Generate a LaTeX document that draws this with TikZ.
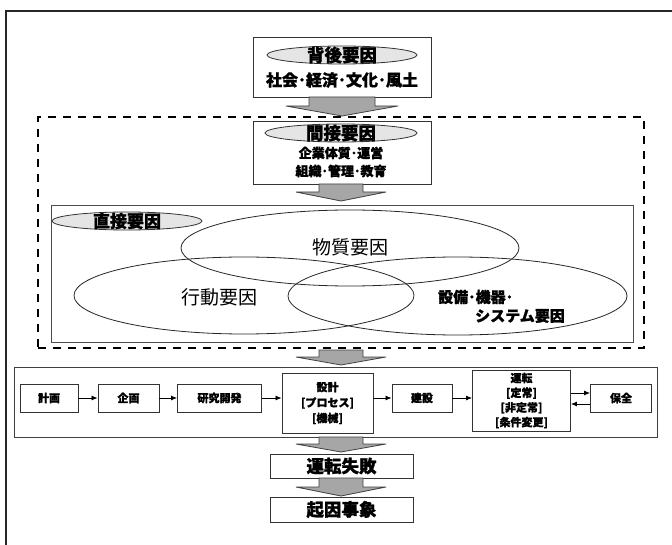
\documentclass[tikz,border=0pt]{standalone}
\usepackage{fontspec}
\newfontfamily\jp{Noto Sans CJK JP}[BoldFeatures={FakeBold=1.2}]
\usetikzlibrary{shapes.geometric,arrows.meta,calc}
\newcommand\jpf[1]{\jp\fontsize{#1}{#1}\selectfont}
\begin{document}
\begin{tikzpicture}[x=1pt,y=-1pt,
  boxline/.style={draw=black!80, line width=0.9pt, inner sep=0pt},
  tagell/.style={ellipse, draw=black!80, fill=black!10, line width=0.8pt, inner sep=0pt},
  venn/.style={ellipse, draw=black!85, line width=0.8pt, inner sep=0pt},
  blockarr/.style={fill=black!35, draw=black!75, line width=0.8pt, line join=miter},
  pbox/.style={boxline, fill=white, align=center, font=\jpf{11}\bfseries},
  flow/.style={-{Latex[length=6pt,width=5pt]}, line width=0.8pt, black}]
\useasboundingbox (0,0) rectangle (672,545);
% outer frame
\draw[line width=2pt, black!85] (6,545) -- (6,11) -- (672,11);

% background factors
\node[boxline, fill=white, minimum width=178pt, minimum height=60pt] (bg) at (342,67) {};
\node[tagell, minimum width=150pt, minimum height=18pt] (bgtag) at (342,55) {};
\node[font=\jpf{17.5}\bfseries] (bgtitle) at (342,55) {背後要因};
\node[font=\jpf{16}\bfseries] (bgtext) at (342,80) {社会･経済･文化･風土};

% arrow 1
\draw[blockarr] (309,97) -- (375,97) -- (375,106) -- (398,106) -- (342,116) -- (286,106) -- (309,106) -- cycle;

% dashed region
\node[draw=black, line width=2.6pt, dash pattern=on 8pt off 7pt, minimum width=606pt, minimum height=231pt, inner sep=0pt] (region) at (341,232.5) {};

% indirect factors
\node[boxline, fill=white, minimum width=178pt, minimum height=63pt] (ind) at (342,152.5) {};
\node[tagell, minimum width=152pt, minimum height=18pt] (indtag) at (341,133) {};
\node[font=\jpf{17.5}\bfseries] (indtitle) at (341,133) {間接要因};
\node[font=\jpf{13}\bfseries] (indl1) at (341,153) {企業体質･運営};
\node[font=\jpf{13}\bfseries] (indl2) at (341,171) {組織･管理･教育};

% arrow 2
\draw[blockarr] (319,184) -- (363,184) -- (363,192) -- (386,192) -- (341,201) -- (296,192) -- (319,192) -- cycle;

% direct factors
\node[boxline, draw=black!70, minimum width=582pt, minimum height=137pt] (direct) at (342,273.5) {};
\node[tagell, minimum width=150pt, minimum height=18pt] (dirtag) at (127,221) {};
\node[font=\jpf{17}\bfseries] (dirtitle) at (127,221) {直接要因};
\node[venn, minimum width=338pt, minimum height=76pt] (mat) at (350,248) {};
\node[venn, minimum width=340pt, minimum height=77pt] (act) at (244,295.5) {};
\node[venn, minimum width=339pt, minimum height=78pt] (equ) at (457.5,296) {};
\node[font=\jpf{19}] (matt) at (350,247) {物質要因};
\node[font=\jpf{19}] (actt) at (219,297) {行動要因};
\node[font=\jpf{15}\bfseries, anchor=west, inner sep=0pt] (equt1) at (438,297) {設備･機器･};
\node[font=\jpf{15}\bfseries, anchor=west, inner sep=0pt] (equt2) at (475,316) {システム要因};

% arrow 3
\draw[blockarr] (319,350) -- (363,350) -- (363,357) -- (386,357) -- (341,365) -- (296,357) -- (319,357) -- cycle;

% process row
\node[boxline, draw=black!75, minimum width=643pt, minimum height=70pt] (proc) at (335.5,402) {};
\node[pbox, minimum width=58pt, minimum height=28pt] (keikaku) at (49,398) {計画};
\node[pbox, minimum width=61pt, minimum height=28pt] (kikaku) at (128.5,398) {企画};
\node[pbox, minimum width=84pt, minimum height=28pt] (kenkyu) at (219.5,398) {研究開発};
\node[pbox, minimum width=91pt, minimum height=60pt, font=\jp\fontsize{11}{15.5}\selectfont\bfseries] (sekkei) at (327.5,403) {設計\\{}[プロセス]\\{}[機械]};
\node[pbox, minimum width=60pt, minimum height=28pt] (kensetsu) at (422,398) {建設};
\node[pbox, minimum width=98pt, minimum height=61pt, font=\jp\fontsize{11}{14.7}\selectfont\bfseries] (unten) at (521.5,400.5) {運転\\{}[定常]\\{}[非定常]\\{}[条件変更]};
\node[pbox, minimum width=61pt, minimum height=28pt] (hozen) at (621,398) {保全};

\draw[flow] (keikaku.east) -- (kikaku.west);
\draw[flow] (kikaku.east) -- (kenkyu.west);
\draw[flow] (kenkyu.east) -- (kenkyu.east -| sekkei.west);
\draw[flow] (sekkei.east |- kensetsu.west) -- (kensetsu.west);
\draw[flow] (kensetsu.east) -- (kensetsu.east -| unten.west);
\draw[flow] ($(unten.east |- hozen.west)+(0,-5)$) -- ($(hozen.west)+(0,-5)$);
\draw[flow] ($(hozen.west)+(0,6)$) -- ($(unten.east |- hozen.west)+(0,6)$);

% arrow 4
\draw[blockarr] (319,437) -- (363,437) -- (363,444) -- (386,444) -- (341,452) -- (296,444) -- (319,444) -- cycle;

\node[boxline, fill=white, minimum width=143pt, minimum height=24pt, font=\jpf{17.5}\bfseries] (fail) at (341.5,466) {運転失敗};

% arrow 5
\draw[blockarr] (319,478) -- (363,478) -- (363,487) -- (386,487) -- (341,496) -- (296,487) -- (319,487) -- cycle;

\node[boxline, fill=white, minimum width=143pt, minimum height=25pt, font=\jpf{17.5}\bfseries] (event) at (341.5,509.5) {起因事象};
\end{tikzpicture}
\end{document}
